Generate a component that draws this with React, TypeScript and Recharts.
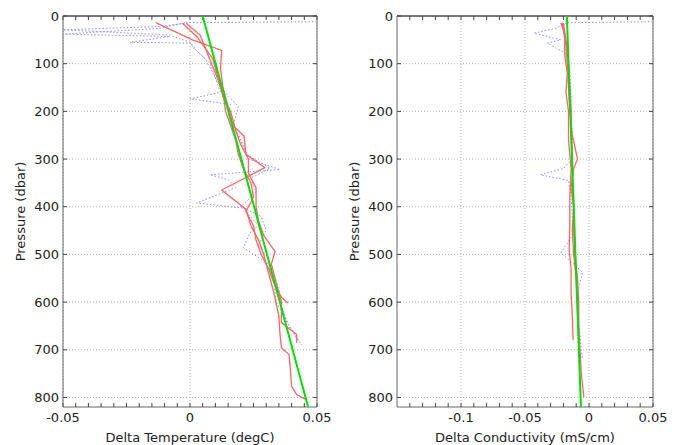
import React from 'react';
import { ScatterChart, Scatter, XAxis, YAxis, CartesianGrid } from 'recharts';

// pressure levels (dbar) and deltas
const tempRedA = [
  { p: 14, v: -0.0135 }, { p: 50, v: 0.001 }, { p: 72, v: 0.0125 }, { p: 110, v: 0.012 },
  { p: 150, v: 0.013 }, { p: 190, v: 0.015 }, { p: 230, v: 0.017 }, { p: 252, v: 0.0213 },
  { p: 290, v: 0.022 }, { p: 318, v: 0.0295 }, { p: 365, v: 0.0125 }, { p: 405, v: 0.022 },
  { p: 440, v: 0.024 }, { p: 470, v: 0.027 }, { p: 500, v: 0.029 }, { p: 540, v: 0.031 },
  { p: 580, v: 0.033 }, { p: 630, v: 0.035 }, { p: 665, v: 0.0354 }, { p: 696, v: 0.036 },
  { p: 710, v: 0.039 }, { p: 740, v: 0.0395 }, { p: 776, v: 0.040 }, { p: 794, v: 0.042 },
  { p: 805, v: 0.046 },
];
const tempRedB = [
  { p: 15, v: -0.003 }, { p: 45, v: 0.003 }, { p: 90, v: 0.009 }, { p: 130, v: 0.011 },
  { p: 170, v: 0.013 }, { p: 200, v: 0.016 }, { p: 240, v: 0.018 }, { p: 270, v: 0.020 },
  { p: 300, v: 0.023 }, { p: 330, v: 0.023 }, { p: 360, v: 0.026 }, { p: 400, v: 0.026 },
  { p: 430, v: 0.027 }, { p: 460, v: 0.029 }, { p: 494, v: 0.0335 }, { p: 520, v: 0.032 },
  { p: 560, v: 0.034 }, { p: 600, v: 0.036 }, { p: 643, v: 0.036 }, { p: 668, v: 0.042 },
  { p: 685, v: 0.042 },
];
const tempRedC = [
  { p: 15, v: -0.0015 }, { p: 40, v: 0.004 }, { p: 80, v: 0.007 }, { p: 120, v: 0.010 },
  { p: 160, v: 0.013 }, { p: 200, v: 0.014 }, { p: 230, v: 0.016 }, { p: 260, v: 0.018 },
  { p: 290, v: 0.019 }, { p: 320, v: 0.021 }, { p: 350, v: 0.024 }, { p: 380, v: 0.025 },
  { p: 410, v: 0.022 }, { p: 440, v: 0.025 }, { p: 470, v: 0.026 }, { p: 500, v: 0.028 },
  { p: 530, v: 0.031 }, { p: 560, v: 0.033 }, { p: 590, v: 0.036 }, { p: 602, v: 0.0385 },
];
const tempBlueA = [
  { p: 12, v: 0.05 }, { p: 14, v: 0.0 }, { p: 22, v: -0.012 }, { p: 29, v: -0.05 },
  { p: 40, v: -0.008 }, { p: 55, v: 0.0 }, { p: 75, v: 0.003 }, { p: 100, v: 0.008 },
  { p: 130, v: 0.010 }, { p: 160, v: 0.012 }, { p: 174, v: 0.0 }, { p: 185, v: 0.016 },
  { p: 210, v: 0.015 }, { p: 240, v: 0.018 }, { p: 270, v: 0.021 }, { p: 300, v: 0.023 },
  { p: 322, v: 0.0354 }, { p: 333, v: 0.0079 }, { p: 343, v: 0.015 }, { p: 360, v: 0.018 },
  { p: 392, v: 0.0026 }, { p: 403, v: 0.021 }, { p: 440, v: 0.027 }, { p: 455, v: 0.0236 },
  { p: 486, v: 0.021 }, { p: 520, v: 0.031 }, { p: 560, v: 0.033 }, { p: 600, v: 0.034 },
  { p: 640, v: 0.038 }, { p: 685, v: 0.043 },
];
const tempBlueB = [
  { p: 14, v: -0.002 }, { p: 26, v: -0.012 }, { p: 38, v: -0.05 }, { p: 43, v: -0.008 },
  { p: 55, v: -0.0236 }, { p: 57, v: 0.0 }, { p: 70, v: 0.002 }, { p: 90, v: 0.006 },
  { p: 120, v: 0.009 }, { p: 150, v: 0.012 }, { p: 190, v: 0.019 }, { p: 230, v: 0.017 },
  { p: 260, v: 0.020 }, { p: 290, v: 0.022 }, { p: 319, v: 0.0315 }, { p: 340, v: 0.024 },
  { p: 370, v: 0.026 }, { p: 400, v: 0.020 }, { p: 420, v: 0.028 }, { p: 450, v: 0.030 },
  { p: 480, v: 0.027 }, { p: 510, v: 0.031 }, { p: 540, v: 0.032 }, { p: 570, v: 0.035 },
  { p: 610, v: 0.036 }, { p: 650, v: 0.039 }, { p: 690, v: 0.044 },
];
const tempFit = [{ p: 0, v: 0.005 }, { p: 820, v: 0.0465 }];

const condRedA = [
  { p: 14, v: -0.022 }, { p: 30, v: -0.020 }, { p: 60, v: -0.018 }, { p: 100, v: -0.017 },
  { p: 150, v: -0.016 }, { p: 200, v: -0.015 }, { p: 250, v: -0.013 }, { p: 300, v: -0.009 },
  { p: 320, v: -0.012 }, { p: 360, v: -0.014 }, { p: 400, v: -0.012 }, { p: 450, v: -0.012 },
  { p: 500, v: -0.011 }, { p: 550, v: -0.009 }, { p: 600, v: -0.008 }, { p: 650, v: -0.008 },
  { p: 700, v: -0.007 }, { p: 750, v: -0.006 }, { p: 800, v: -0.004 },
];
const condRedB = [
  { p: 14, v: -0.021 }, { p: 40, v: -0.019 }, { p: 80, v: -0.019 }, { p: 120, v: -0.017 },
  { p: 160, v: -0.018 }, { p: 200, v: -0.016 }, { p: 260, v: -0.016 }, { p: 320, v: -0.014 },
  { p: 380, v: -0.015 }, { p: 440, v: -0.015 }, { p: 490, v: -0.0155 }, { p: 530, v: -0.014 },
  { p: 580, v: -0.014 }, { p: 630, v: -0.013 }, { p: 680, v: -0.0124 },
];
const condRedC = [
  { p: 15, v: -0.020 }, { p: 50, v: -0.018 }, { p: 100, v: -0.016 }, { p: 150, v: -0.015 },
  { p: 200, v: -0.014 }, { p: 250, v: -0.014 }, { p: 300, v: -0.013 }, { p: 350, v: -0.013 },
  { p: 400, v: -0.012 }, { p: 450, v: -0.013 }, { p: 500, v: -0.012 }, { p: 550, v: -0.010 },
  { p: 600, v: -0.009 },
];
const condBlue = [
  { p: 12, v: 0.05 }, { p: 14, v: -0.017 }, { p: 25, v: -0.025 }, { p: 36, v: -0.043 },
  { p: 50, v: -0.022 }, { p: 57, v: -0.0325 }, { p: 80, v: -0.017 }, { p: 120, v: -0.015 },
  { p: 160, v: -0.014 }, { p: 200, v: -0.014 }, { p: 250, v: -0.013 }, { p: 300, v: -0.013 },
  { p: 320, v: -0.020 }, { p: 333, v: -0.038 }, { p: 345, v: -0.016 }, { p: 380, v: -0.014 },
  { p: 420, v: -0.013 }, { p: 460, v: -0.013 }, { p: 497, v: -0.022 }, { p: 520, v: -0.012 },
  { p: 538, v: -0.005 }, { p: 580, v: -0.009 }, { p: 640, v: -0.008 }, { p: 700, v: -0.006 },
  { p: 720, v: -0.005 },
];
const condFit = [{ p: 0, v: -0.0173 }, { p: 820, v: -0.0063 }];

const pressureTicks = [0, 100, 200, 300, 400, 500, 600, 700, 800];
const tempTicks = [-0.05, 0, 0.05];
const tempMinor = [-0.05, -0.045, -0.04, -0.035, -0.03, -0.025, -0.02, -0.015, -0.01, -0.005, 0,
  0.005, 0.01, 0.015, 0.02, 0.025, 0.03, 0.035, 0.04, 0.045, 0.05];
const condTicks = [-0.1, -0.05, 0, 0.05];
const condMinor = [-0.14, -0.13, -0.12, -0.11, -0.1, -0.09, -0.08, -0.07, -0.06, -0.05, -0.04,
  -0.03, -0.02, -0.01, 0, 0.01, 0.02, 0.03, 0.04, 0.05];

const font = { fontFamily: 'DejaVu Sans', fontSize: 13, fill: '#222' };
const frame = { stroke: '#666', strokeWidth: 1 };
const noDot = () => <g />;
const noLabel = () => <g />;
const tickMark = { stroke: '#444', strokeWidth: 1 };

const red = { stroke: '#ff6464', strokeWidth: 1.3 };
const blue = { stroke: '#8c8cff', strokeWidth: 1, strokeDasharray: '1.5 2' };
const green = { stroke: '#00e000', strokeWidth: 2 };

function Profile({ width, marginLeft, marginRight, domain, ticks, minor, xLabel, reds, blues, fit }) {
  const fmt = (v) => (ticks.includes(v) ? String(v) : '');
  return (
    <ScatterChart width={width} height={437}
      margin={{ top: 7, right: marginRight - 1, bottom: 2, left: marginLeft }}>
      <CartesianGrid xAxisId="b" yAxisId="l" stroke="#b4b4b4" strokeDasharray="1 2"
        verticalValues={ticks} horizontalValues={pressureTicks} />
      <XAxis xAxisId="b" type="number" dataKey="v" domain={domain} ticks={minor} interval={0}
        allowDataOverflow height={36} tickSize={-4} tickMargin={10} tickFormatter={fmt}
        tickLine={tickMark} axisLine={frame} tick={font}
        label={{ value: xLabel, position: 'insideBottom', offset: 1, style: font }} />
      <XAxis xAxisId="t" type="number" dataKey="v" domain={domain} ticks={minor} interval={0}
        allowDataOverflow orientation="top" height={1} tick={noLabel} tickSize={-4}
        axisLine={{ stroke: '#777', strokeWidth: 2 }} tickLine={tickMark} />
      <YAxis yAxisId="l" type="number" dataKey="p" domain={[0, 820]} reversed ticks={pressureTicks}
        interval={0} allowDataOverflow width={50} tickSize={-4} tickMargin={8}
        tickLine={tickMark} axisLine={frame} tick={font}
        label={{ value: 'Pressure (dbar)', angle: -90, position: 'insideLeft', offset: 7,
          style: { ...font, textAnchor: 'middle' } }} />
      <YAxis yAxisId="r" type="number" dataKey="p" domain={[0, 820]} reversed ticks={pressureTicks}
        interval={0} allowDataOverflow orientation="right" width={1} tick={noLabel} tickSize={-4}
        axisLine={frame} tickLine={tickMark} />
      {blues.map((d, i) => (
        <Scatter key={'b' + i} xAxisId="b" yAxisId="l" data={d} line={blue} shape={noDot}
          isAnimationActive={false} />
      ))}
      {reds.map((d, i) => (
        <Scatter key={'r' + i} xAxisId="b" yAxisId="l" data={d} line={red} shape={noDot}
          isAnimationActive={false} />
      ))}
      <Scatter xAxisId="b" yAxisId="l" data={fit} line={green} shape={noDot}
        isAnimationActive={false} />
      {/* invisible series so the top and right frame axes get drawn */}
      <Scatter xAxisId="t" yAxisId="r" data={fit} shape={noDot} isAnimationActive={false} />
    </ScatterChart>
  );
}

export default function App() {
  return (
    <div style={{ display: 'flex', width: 664, background: '#fff' }}>
      <Profile width={330} marginLeft={5} marginRight={21} domain={[-0.05, 0.05]}
        ticks={tempTicks} minor={tempMinor} xLabel="Delta Temperature (degC)"
        reds={[tempRedA, tempRedB, tempRedC]} blues={[tempBlueA, tempBlueB]} fit={tempFit} />
      <Profile width={334} marginLeft={9} marginRight={19} domain={[-0.15, 0.05]}
        ticks={condTicks} minor={condMinor} xLabel="Delta Conductivity (mS/cm)"
        reds={[condRedA, condRedB, condRedC]} blues={[condBlue]} fit={condFit} />
    </div>
  );
}
